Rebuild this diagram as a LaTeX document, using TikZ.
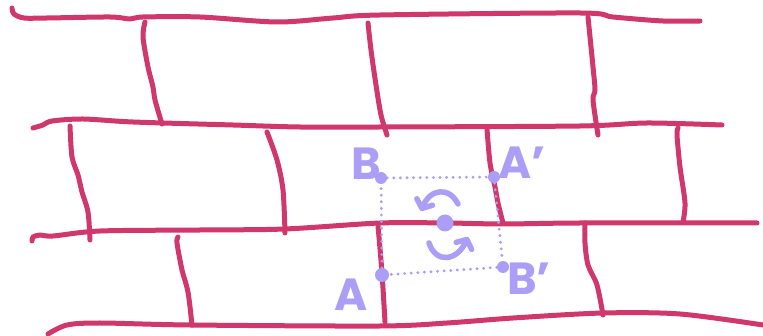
\documentclass[tikz,border=0pt]{standalone}
\usepackage{fontspec}
\setmainfont{Poppins}
\usepackage{xcolor}
\usepackage{tikz}
\usetikzlibrary{arrows.meta,positioning}
\definecolor{brickred}{HTML}{D0376B}
\definecolor{lilac}{HTML}{AC9DF7}

\begin{document}
\begin{tikzpicture}[
    x=1pt, y=-1pt,
    mortar/.style={draw=brickred, line width=5pt, line cap=round, line join=round},
    guide/.style={draw=lilac, line width=3.2pt, line cap=round, dash pattern=on 0pt off 6.6pt},
    corner/.style={circle, fill=lilac, inner sep=0pt, minimum size=12pt},
    hub/.style={corner, minimum size=17pt},
    tag/.style={text=lilac, font=\fontsize{45}{45}\selectfont\bfseries, inner sep=0pt},
    spin/.style={draw=lilac, line width=5.5pt, line cap=round,
                 -{Straight Barb[round, length=7pt, width=17pt]}}
  ]
    \useasboundingbox (0,0) rectangle (763,336);

    % courses
    \draw[mortar] plot[smooth] coordinates {(12,8) (14,14) (24,18) (47,18) (110,17) (130,19) (143,17)
        (200,17) (277,22) (333,18) (380,15) (580,13) (613,17) (663,21) (700,21)};
    \draw[mortar] plot[smooth] coordinates {(33,128) (43,125) (52,121) (83,119) (133,122) (233,125)
        (300,127) (380,127) (580,126) (647,123) (722,125)};
    \draw[mortar] plot[smooth] coordinates {(32,241) (33,237) (40,235) (53,236) (100,231) (200,230)
        (285,229) (380,223) (447,223) (503,224) (580,223) (757,223)};
    \draw[mortar] plot[smooth] coordinates {(48,334) (67,325) (100,323) (190,325) (380,326)
        (447,323) (513,318) (603,313) (680,314) (763,325)};

    % joints
    \draw[mortar] plot[smooth] coordinates {(145,22) (143,37) (148,67) (153,87) (155,100) (162,124)};
    \draw[mortar] plot[smooth] coordinates {(368,23) (371,50) (376,85) (381,115) (387,135)};
    \draw[mortar] plot[smooth] coordinates {(588,17) (593,67) (595,90) (593,100) (598,135)};
    \draw[mortar] plot[smooth] coordinates {(70,126) (72,157) (78,175) (82,192) (88,212) (90,240)};
    \draw[mortar] plot[smooth] coordinates {(267,132) (277,160) (283,190) (285,233)};
    \draw[mortar] plot[smooth] coordinates {(487,129) (490,163) (495,187) (498,203) (503,223)};
    \draw[mortar] plot[smooth] coordinates {(678,128) (677,135) (680,167) (685,203) (683,222)};
    \draw[mortar] plot[smooth] coordinates {(178,237) (177,243) (182,270) (188,292) (192,325)};
    \draw[mortar] plot[smooth] coordinates {(378,226) (382,273) (385,322)};
    \draw[mortar] plot[smooth] coordinates {(585,223) (585,243) (588,265) (597,285) (603,315)};

    % cell
    \node[corner] (ptB) at (381,178) {};
    \node[corner] (ptAp) at (494,177) {};
    \node[corner, minimum size=14pt] (ptA) at (382,275) {};
    \node[corner] (ptBp) at (503,267) {};
    \node[hub] (center) at (445,223) {};

    \draw[guide] (ptB) -- (ptAp);
    \draw[guide] (ptAp) -- (ptBp);
    \draw[guide] (ptBp) -- (ptA);
    \draw[guide] (ptA) -- (ptB);

    \node[tag] (labB) at (366,164) {B};
    \node[tag] (labAp) at (522,163) {A'};
    \node[tag] (labA) at (351,295) {A};
    \node[tag] (labBp) at (529,279) {B'};

    \draw[spin] (458,204) .. controls (449,186) and (430,189) .. (421,211);
    \draw[spin] (429,243) .. controls (436,264) and (457,261) .. (468,237);
  \end{tikzpicture}
\end{document}
